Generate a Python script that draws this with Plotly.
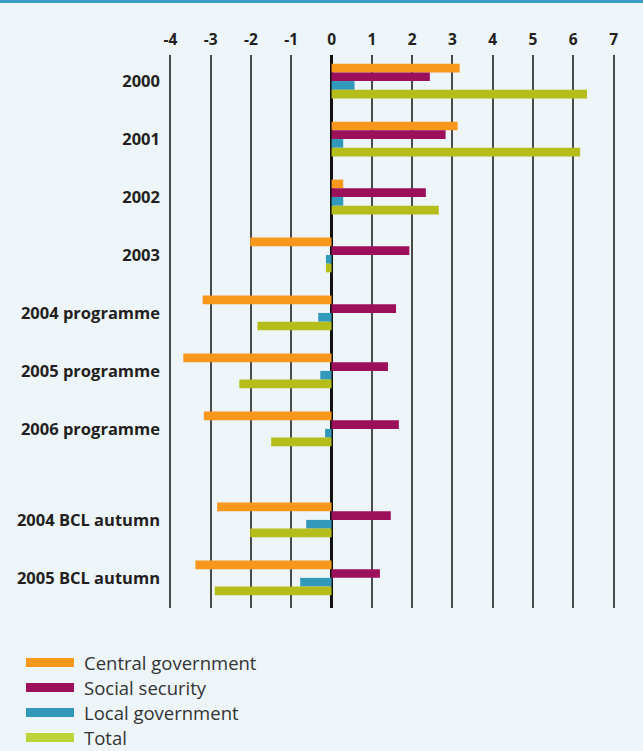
import plotly.graph_objects as go

categories = ["2000", "2001", "2002", "2003", "2004 programme", "2005 programme",
              "2006 programme", "2004 BCL autumn", "2005 BCL autumn"]
series_names = ["Central government", "Social security", "Local government", "Total"]
central = [3.18, 3.13, 0.29, -2.02, -3.20, -3.68, -3.17, -2.84, -3.38]
social = [2.44, 2.83, 2.34, 1.93, 1.60, 1.40, 1.67, 1.47, 1.20]
local = [0.57, 0.29, 0.29, -0.14, -0.33, -0.28, -0.16, -0.63, -0.78]
total = [6.34, 6.17, 2.66, -0.14, -1.84, -2.29, -1.50, -2.02, -2.90]
x_ticks = [-4, -3, -2, -1, 0, 1, 2, 3, 4, 5, 6, 7]

colors = ["#f7981d", "#9b0f5b", "#3399bb", "#b5bd1b"]
legend_colors = ["#f7981d", "#9b0f5b", "#3399bb", "#bcd43a"]
values = [central, social, local, total]

W, H = 643, 751
L, R, T, B = 168, 27, 55, 143
pw, ph = W - L - R, H - T - B

# numeric category positions with an extra gap before the BCL rows
GAP = 0.57
pos = [i + (GAP if i >= 7 else 0) for i in range(len(categories))]

fig = go.Figure()
for name, vals, c in zip(series_names, values, colors):
    fig.add_trace(go.Bar(y=pos, x=vals, orientation="h", name=name,
                         marker=dict(color=c, line=dict(width=0)),
                         showlegend=False))

def px(xp, yp):
    return (xp - L) / pw, 1 - (yp - T) / ph

shapes = []
# top blue rule
x0, y0 = px(0, 1.5)
x1, _ = px(W, 1.5)
shapes.append(dict(type="line", xref="paper", yref="paper", x0=x0, x1=x1, y0=y0, y1=y0,
                   line=dict(color="#3a9cc4", width=3)))
annotations = []
legend_y = [662.5, 687.5, 712.5, 737.5]
for name, c, ly in zip(series_names, legend_colors, legend_y):
    ax0, ay0 = px(26, ly - 4.5)
    ax1, ay1 = px(74, ly + 4.5)
    shapes.append(dict(type="rect", xref="paper", yref="paper", x0=ax0, x1=ax1, y0=ay1, y1=ay0,
                       fillcolor=c, line=dict(width=0)))
    tx, ty = px(83, ly)
    annotations.append(dict(text=name, xref="paper", yref="paper", x=tx, y=ty,
                            xanchor="left", yanchor="middle", showarrow=False, borderpad=0,
                            font=dict(family="Open Sans", size=18.5, color="#333333")))

fig.update_layout(
    width=W, height=H,
    margin=dict(l=L, r=R, t=T, b=B, pad=0),
    paper_bgcolor="#edf5f9", plot_bgcolor="#edf5f9",
    barmode="group", bargap=0.4, bargroupgap=0,
    shapes=shapes, annotations=annotations,
    xaxis=dict(side="top", range=[-4.06, 7.06], tickvals=x_ticks,
               ticktext=[str(t) for t in x_ticks],
               showgrid=True, gridcolor="#4a4a4a", gridwidth=1.6,
               zeroline=True, zerolinecolor="#111111", zerolinewidth=2.6,
               showline=False, ticks="", ticklabelstandoff=6,
               tickfont=dict(family="Open Sans", size=15.5, color="#231f20", weight="bold")),
    yaxis=dict(range=[pos[-1] + 0.52, -0.45], tickvals=pos, ticktext=categories,
               showgrid=False, zeroline=False, showline=False, ticks="",
               ticklabelstandoff=7,
               tickfont=dict(family="Open Sans", size=16.5, color="#231f20", weight="bold")),
)

fig.write_html("out.html")
